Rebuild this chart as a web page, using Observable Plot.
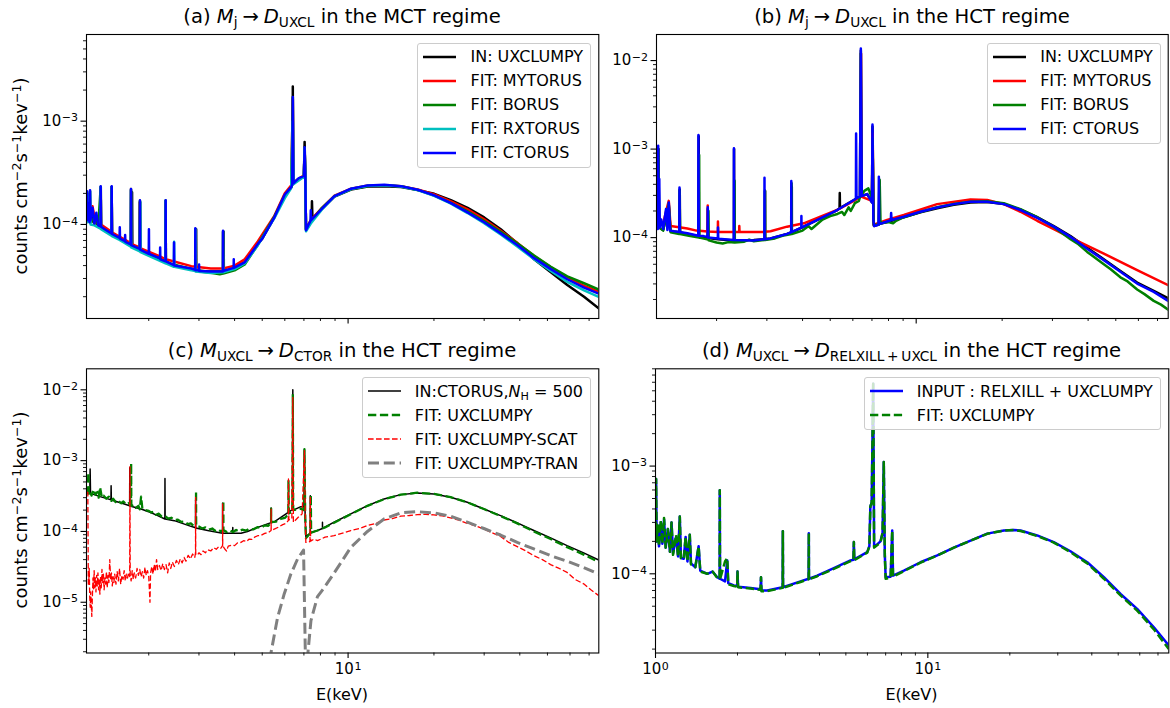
<!DOCTYPE html>
<html><head><meta charset="utf-8">
<script src="https://cdn.jsdelivr.net/npm/d3@7"></script>
<script src="https://cdn.jsdelivr.net/npm/@observablehq/plot@0.6"></script>
<style>
body{margin:0;background:#fff;}
#fig{position:relative;width:1170px;height:708px;font-family:"DejaVu Sans",sans-serif;color:#000;overflow:hidden;background:#fff;}
.pnl{position:absolute;}
.title{position:absolute;font-size:19.6px;line-height:1;white-space:nowrap;transform:translate(-50%,-50%);}
sub{font-size:70%;vertical-align:-0.28em;line-height:0;}
sup{font-size:70%;vertical-align:0.5em;line-height:0;}
.ylab{position:absolute;font-size:18px;line-height:1;white-space:nowrap;transform:translate(-50%,-50%) rotate(-90deg);}
.xlab{position:absolute;font-size:16px;line-height:1;white-space:nowrap;transform:translate(-50%,-50%);}
.legend{position:absolute;background:rgba(255,255,255,0.8);border:1px solid #cccccc;border-radius:3px;font-size:16px;padding:1px 7px 2px 5px;}
.legend .row{display:flex;align-items:center;height:24px;white-space:nowrap;}
.legend svg{width:33px;height:10px;margin-right:14px;flex:none;}
</style>
</head><body>
<div id="fig"></div>
<script>
// ---------------- DATA (energy keV, counts cm^-2 s^-1 keV^-1) ----------------
// Panel (a): M_j -> D_UXCL, MCT regime
const a_in_uxclumpy = [[1.21,1.2e-4],[1.215,2.0e-4],[1.222,1.15e-4],[1.232,1.5e-4],[1.24,1.08e-4],[1.26,1.35e-4],[1.28,1.05e-4],[1.33,1.0e-4],[1.355,9.7e-5],[1.358,2.3e-4],[1.362,9.6e-5],[1.44,8.4e-5],[1.48,8.1e-5],[1.482,2.3e-4],[1.487,8.0e-5],[1.58,7.3e-5],[1.65,7.0e-5],[1.745,6.3e-5],[1.748,2.05e-4],[1.752,6.3e-5],[1.86,5.8e-5],[1.863,1.65e-4],[1.867,5.7e-5],[2.0,5.2e-5],[2.15,4.8e-5],[2.29,4.4e-5],[2.292,1.7e-4],[2.296,4.4e-5],[2.46,4.0e-5],[2.82,3.7e-5],[2.93,3.6e-5],[2.933,9.0e-5],[2.937,3.6e-5],[3.23,3.5e-5],[3.66,3.5e-5],[3.663,8.5e-5],[3.667,3.5e-5],[4.0,3.8e-5],[4.34,4.3e-5],[4.83,6.5e-5],[5.0,7.3e-5],[5.52,1.18e-4],[6.0,1.95e-4],[6.32,2.3e-4],[6.39,2.45e-4],[6.4,2.17e-3],[6.41,2.5e-4],[6.7,2.75e-4],[7.0,2.95e-4],[7.04,6.3e-4],[7.08,2.95e-4],[7.12,9.0e-5],[7.3,1.02e-4],[7.45,1.12e-4],[7.47,1.68e-4],[7.5,1.14e-4],[8.1,1.42e-4],[8.96,1.86e-4],[10.24,2.18e-4],[11.72,2.33e-4],[13.4,2.35e-4],[15.33,2.3e-4],[17.54,2.15e-4],[20.05,1.98e-4],[22.94,1.72e-4],[26.24,1.45e-4],[30.0,1.17e-4],[34.3,9.0e-5],[39.3,6.5e-5],[44.9,4.6e-5],[51.4,3.45e-5],[58.7,2.6e-5],[67.2,2.0e-5],[76,1.53e-5]];
const a_fit_mytorus = [[1.21,1.25e-4],[1.22,2.0e-4],[1.24,1.1e-4],[1.27,1.5e-4],[1.3,1.05e-4],[1.355,1.0e-4],[1.357,2.2e-4],[1.36,1.0e-4],[1.48,8.5e-5],[1.483,2.3e-4],[1.486,8.4e-5],[1.73,6.6e-5],[1.733,2.2e-4],[1.736,6.5e-5],[1.86,6.0e-5],[1.863,1.65e-4],[1.866,5.9e-5],[2.19,4.9e-5],[2.29,4.6e-5],[2.293,1.65e-4],[2.296,4.6e-5],[2.82,3.95e-5],[2.913,3.9e-5],[2.916,8.8e-5],[2.92,3.9e-5],[3.3,3.75e-5],[3.643,3.75e-5],[3.646,8.5e-5],[3.65,3.75e-5],[4.0,4.0e-5],[4.34,4.6e-5],[4.83,6.9e-5],[5.52,1.22e-4],[6.0,2.0e-4],[6.32,2.4e-4],[6.4,1.65e-3],[6.43,2.55e-4],[7.0,3.0e-4],[7.04,5.4e-4],[7.08,3.0e-4],[7.12,9.0e-5],[7.4,1.1e-4],[8.1,1.45e-4],[8.96,1.9e-4],[10.24,2.22e-4],[11.72,2.38e-4],[13.4,2.4e-4],[15.33,2.34e-4],[17.54,2.18e-4],[20.05,1.95e-4],[22.94,1.67e-4],[26.24,1.4e-4],[30.0,1.12e-4],[34.3,8.7e-5],[39.3,6.6e-5],[44.9,4.95e-5],[51.4,3.85e-5],[58.7,3.05e-5],[67.2,2.55e-5],[76,2.22e-5]];
const a_fit_borus = [[1.21,1.15e-4],[1.215,1.9e-4],[1.225,1.1e-4],[1.245,2.1e-4],[1.25,1.05e-4],[1.3,1.2e-4],[1.33,9.6e-5],[1.357,2.3e-4],[1.36,9.3e-5],[1.48,8.1e-5],[1.483,2.3e-4],[1.486,8.0e-5],[1.73,6.3e-5],[1.733,2.15e-4],[1.736,6.2e-5],[1.86,5.7e-5],[1.863,1.7e-4],[1.866,5.6e-5],[2.29,4.35e-5],[2.293,1.7e-4],[2.296,4.3e-5],[2.82,3.7e-5],[2.913,3.6e-5],[2.916,9.0e-5],[2.92,3.55e-5],[3.3,3.4e-5],[3.55,3.3e-5],[3.643,3.35e-5],[3.646,8.5e-5],[3.65,3.35e-5],[4.0,3.6e-5],[4.34,4.1e-5],[4.83,6.4e-5],[5.52,1.2e-4],[6.0,1.9e-4],[6.32,2.3e-4],[6.4,1.7e-3],[6.43,2.5e-4],[7.0,2.95e-4],[7.04,5.5e-4],[7.08,2.95e-4],[7.12,8.9e-5],[7.4,1.05e-4],[8.1,1.45e-4],[8.96,1.88e-4],[10.24,2.2e-4],[11.72,2.36e-4],[13.4,2.4e-4],[15.33,2.34e-4],[17.54,2.16e-4],[20.05,1.9e-4],[22.94,1.62e-4],[26.24,1.34e-4],[30.0,1.08e-4],[34.3,8.5e-5],[39.3,6.55e-5],[44.9,5.0e-5],[51.4,3.9e-5],[58.7,3.15e-5],[67.2,2.7e-5],[76,2.33e-5]];
const a_fit_rxtorus = [[1.21,1.1e-4],[1.215,2.0e-4],[1.22,1.05e-4],[1.245,2.1e-4],[1.25,1.0e-4],[1.29,9.8e-5],[1.355,9.1e-5],[1.357,2.3e-4],[1.36,9.0e-5],[1.48,7.8e-5],[1.483,2.3e-4],[1.486,7.7e-5],[1.58,7.1e-5],[1.73,6.1e-5],[1.733,2.2e-4],[1.736,6.0e-5],[1.86,5.5e-5],[1.868,1.65e-4],[1.872,5.4e-5],[2.29,4.2e-5],[2.293,1.7e-4],[2.296,4.2e-5],[2.45,3.9e-5],[2.455,6.8e-5],[2.46,3.9e-5],[2.82,3.6e-5],[2.913,3.55e-5],[2.916,9.0e-5],[2.92,3.5e-5],[3.3,3.4e-5],[3.643,3.45e-5],[3.646,8.6e-5],[3.65,3.45e-5],[4.0,3.7e-5],[4.34,4.2e-5],[4.83,6.3e-5],[5.52,1.16e-4],[6.0,1.8e-4],[6.32,2.25e-4],[6.4,1.0e-3],[6.43,2.45e-4],[7.0,2.9e-4],[7.04,5.5e-4],[7.08,2.9e-4],[7.12,8.6e-5],[7.4,1.02e-4],[8.1,1.4e-4],[8.96,1.87e-4],[10.24,2.2e-4],[11.72,2.37e-4],[13.4,2.4e-4],[15.33,2.33e-4],[17.54,2.15e-4],[20.05,1.89e-4],[22.94,1.59e-4],[26.24,1.29e-4],[30.0,1.03e-4],[34.3,8.0e-5],[39.3,6.1e-5],[44.9,4.6e-5],[51.4,3.55e-5],[58.7,2.78e-5],[67.2,2.3e-5],[76,1.98e-5]];
const a_fit_ctorus = [[1.21,1.2e-4],[1.215,2.1e-4],[1.22,1.1e-4],[1.23,1.6e-4],[1.24,1.05e-4],[1.245,2.15e-4],[1.25,1.1e-4],[1.27,1.45e-4],[1.29,1.02e-4],[1.31,1.3e-4],[1.33,9.8e-5],[1.355,9.6e-5],[1.357,2.35e-4],[1.36,9.5e-5],[1.42,8.8e-5],[1.48,8.2e-5],[1.483,2.35e-4],[1.486,8.1e-5],[1.58,7.4e-5],[1.583,9.4e-5],[1.586,7.3e-5],[1.65,6.9e-5],[1.653,7.9e-5],[1.656,6.8e-5],[1.73,6.4e-5],[1.733,2.2e-4],[1.736,6.3e-5],[1.86,5.8e-5],[1.863,1.72e-4],[1.866,5.7e-5],[2.0,5.2e-5],[2.003,9.0e-5],[2.006,5.2e-5],[2.19,4.7e-5],[2.193,6.0e-5],[2.196,4.6e-5],[2.29,4.4e-5],[2.293,1.72e-4],[2.296,4.4e-5],[2.45,4.05e-5],[2.453,6.7e-5],[2.456,4.0e-5],[2.82,3.75e-5],[2.91,3.65e-5],[2.913,9.2e-5],[2.916,3.6e-5],[3.0,3.6e-5],[3.003,4.1e-5],[3.006,3.55e-5],[3.3,3.5e-5],[3.64,3.5e-5],[3.643,8.7e-5],[3.646,3.55e-5],[3.97,3.8e-5],[3.973,4.6e-5],[3.976,3.8e-5],[4.34,4.3e-5],[4.83,6.5e-5],[5.0,7.3e-5],[5.52,1.18e-4],[6.0,1.95e-4],[6.32,2.3e-4],[6.37,2.45e-4],[6.4,1.71e-3],[6.43,2.5e-4],[6.7,2.8e-4],[7.0,2.95e-4],[7.04,5.6e-4],[7.08,2.95e-4],[7.12,8.8e-5],[7.3,1.02e-4],[7.38,1.08e-4],[7.4,1.37e-4],[7.42,1.1e-4],[8.1,1.42e-4],[8.96,1.88e-4],[10.24,2.22e-4],[11.72,2.39e-4],[13.4,2.42e-4],[15.33,2.35e-4],[17.54,2.17e-4],[20.05,1.91e-4],[22.94,1.61e-4],[26.24,1.31e-4],[30.0,1.05e-4],[34.3,8.2e-5],[39.3,6.3e-5],[44.9,4.72e-5],[51.4,3.7e-5],[58.7,2.95e-5],[67.2,2.45e-5],[76,2.13e-5]];

// Panel (b): M_j -> D_UXCL, HCT regime
const b_in_uxclumpy = [[1.23,1.3e-4],[1.249,1.3e-4],[1.251,1.0e-3],[1.255,1.3e-4],[1.3,1.22e-4],[1.36,2.3e-4],[1.38,1.18e-4],[1.483,1.15e-4],[1.486,3.5e-4],[1.49,1.14e-4],[1.58,1.1e-4],[1.728,1.04e-4],[1.731,1.4e-3],[1.734,1.04e-4],[1.86,1.0e-4],[1.863,2.1e-4],[1.866,9.9e-5],[2.02,9.6e-5],[2.3,9.3e-5],[2.303,1.0e-3],[2.306,9.3e-5],[2.7,9.4e-5],[2.955,9.6e-5],[2.958,3.36e-4],[2.961,9.6e-5],[3.09,9.8e-5],[3.53,1.1e-4],[3.665,1.15e-4],[3.668,3.75e-4],[3.671,1.15e-4],[4.04,1.33e-4],[4.62,1.65e-4],[5.29,2.05e-4],[5.39,2.15e-4],[5.40,3.2e-4],[5.41,2.15e-4],[6.05,2.66e-4],[6.35,2.9e-4],[6.4,1.3e-2],[6.45,2.95e-4],[6.74,3.1e-4],[7.0,2.5e-4],[7.03,1.8e-3],[7.08,1.6e-4],[7.12,1.35e-4],[7.4,1.42e-4],[7.43,4.3e-4],[7.46,1.43e-4],[7.91,1.5e-4],[9.05,1.7e-4],[10.35,1.93e-4],[11.84,2.15e-4],[13.54,2.35e-4],[15.49,2.5e-4],[17.73,2.53e-4],[20.27,2.4e-4],[23.19,2.07e-4],[26.53,1.7e-4],[30.33,1.35e-4],[34.7,1.04e-4],[39.7,7.7e-5],[45.4,5.7e-5],[51.9,4.2e-5],[59.4,3.1e-5],[67.9,2.5e-5],[76.3,2.06e-5]];
const b_fit_mytorus = [[1.23,1.35e-4],[1.25,2.0e-4],[1.27,1.4e-4],[1.3,1.45e-4],[1.36,2.6e-4],[1.38,1.35e-4],[1.5,1.3e-4],[1.58,1.27e-4],[1.7,1.2e-4],[1.86,1.17e-4],[1.862,2.3e-4],[1.866,1.17e-4],[2.02,1.16e-4],[2.022,1.52e-4],[2.026,1.16e-4],[2.4,1.16e-4],[2.402,1.35e-4],[2.406,1.16e-4],[2.9,1.16e-4],[3.09,1.18e-4],[3.53,1.33e-4],[4.04,1.45e-4],[4.62,1.72e-4],[5.29,2.05e-4],[6.05,2.6e-4],[6.4,2.9e-4],[6.41,1.2e-2],[6.42,2.9e-4],[7.0,2.6e-4],[7.04,1.5e-3],[7.1,1.4e-4],[7.91,1.58e-4],[9.05,1.8e-4],[11.84,2.39e-4],[15.49,2.7e-4],[17.73,2.66e-4],[20.27,2.39e-4],[23.19,1.96e-4],[26.53,1.55e-4],[30.33,1.25e-4],[34.7,1.0e-4],[45.4,6.6e-5],[59.4,4.3e-5],[76.3,2.9e-5]];
const b_fit_borus = [[1.23,1.3e-4],[1.25,1.0e-3],[1.26,1.3e-4],[1.3,1.2e-4],[1.36,2.4e-4],[1.38,1.15e-4],[1.48,1.1e-4],[1.484,3.4e-4],[1.49,1.1e-4],[1.6,1.05e-4],[1.735,1.0e-4],[1.738,8.6e-4],[1.742,1.0e-4],[1.87,9.5e-5],[1.873,2.0e-4],[1.877,9.3e-5],[2.0,8.8e-5],[2.1,8.6e-5],[2.2,8.9e-5],[2.31,8.8e-5],[2.313,4.4e-4],[2.317,8.8e-5],[2.5,9.0e-5],[2.6,9.5e-5],[2.7,9.1e-5],[2.95,9.4e-5],[2.953,3.4e-4],[2.957,9.4e-5],[3.2,9.8e-5],[3.4,1.05e-4],[3.66,1.1e-4],[3.663,4.1e-4],[3.667,1.1e-4],[4.0,1.2e-4],[4.2,1.35e-4],[4.3,1.25e-4],[4.7,1.6e-4],[5.0,1.75e-4],[5.3,1.85e-4],[5.5,1.95e-4],[5.6,1.8e-4],[5.8,2.2e-4],[5.9,2.0e-4],[6.1,2.45e-4],[6.3,2.6e-4],[6.38,3.0e-4],[6.4,1.2e-2],[6.42,3.0e-4],[6.6,3.4e-4],[6.8,3.6e-4],[7.0,2.8e-4],[7.04,1.3e-3],[7.1,1.4e-4],[7.4,1.4e-4],[7.45,4.5e-4],[7.5,1.45e-4],[8.0,1.5e-4],[8.3,1.45e-4],[8.5,1.55e-4],[9.05,1.7e-4],[10.35,1.95e-4],[11.84,2.2e-4],[13.54,2.4e-4],[15.49,2.55e-4],[17.73,2.58e-4],[20.27,2.45e-4],[23.19,2.1e-4],[26.53,1.7e-4],[30.33,1.32e-4],[34.7,9.6e-5],[37,8.4e-5],[39.7,6.9e-5],[45.4,5.0e-5],[48,4.4e-5],[51.9,3.56e-5],[55,3.2e-5],[59.4,2.59e-5],[63,2.3e-5],[67.9,1.93e-5],[72,1.75e-5],[76.3,1.53e-5]];
const b_fit_ctorus = [[1.23,1.3e-4],[1.24,1.9e-4],[1.245,1.25e-4],[1.249,1.09e-3],[1.253,1.3e-4],[1.26,4.6e-4],[1.265,1.3e-4],[1.28,1.6e-4],[1.3,1.25e-4],[1.33,2.1e-4],[1.345,1.22e-4],[1.36,2.5e-4],[1.375,1.2e-4],[1.42,1.18e-4],[1.48,1.16e-4],[1.483,3.69e-4],[1.487,1.16e-4],[1.58,1.12e-4],[1.725,1.05e-4],[1.728,1.44e-3],[1.732,1.05e-4],[1.80,1.04e-4],[1.86,1.02e-4],[1.863,2.2e-4],[1.867,1.0e-4],[2.02,9.8e-5],[2.023,1.3e-4],[2.027,9.7e-5],[2.298,9.4e-5],[2.30,1.02e-3],[2.304,9.4e-5],[2.7,9.3e-5],[2.94,9.6e-5],[2.943,4.74e-4],[2.947,9.6e-5],[3.09,9.8e-5],[3.53,1.1e-4],[3.65,1.15e-4],[3.653,4.35e-4],[3.657,1.15e-4],[3.96,1.3e-4],[3.963,1.75e-4],[3.967,1.3e-4],[4.62,1.65e-4],[5.29,2.05e-4],[6.05,2.66e-4],[6.15,2.75e-4],[6.16,1.5e-3],[6.18,2.8e-4],[6.35,2.9e-4],[6.4,1.37e-2],[6.45,2.95e-4],[6.74,3.1e-4],[7.0,2.5e-4],[7.03,1.9e-3],[7.08,1.6e-4],[7.12,1.35e-4],[7.3,1.38e-4],[7.38,1.4e-4],[7.4,4.87e-4],[7.42,1.42e-4],[7.91,1.52e-4],[8.15,1.57e-4],[8.17,1.9e-4],[8.2,1.58e-4],[9.05,1.72e-4],[10.35,1.96e-4],[11.84,2.19e-4],[13.54,2.39e-4],[15.49,2.54e-4],[17.73,2.54e-4],[20.27,2.39e-4],[23.19,2.05e-4],[26.53,1.67e-4],[30.33,1.33e-4],[34.7,1.02e-4],[39.7,7.5e-5],[45.4,5.57e-5],[51.9,4.11e-5],[59.4,3.03e-5],[67.9,2.44e-5],[76.3,1.93e-5]];

// Panel (c): M_UXCL -> D_CTOR, HCT regime
const c_in_ctorus = [[1.21,3.6e-4],[1.223,3.57e-4],[1.243,3.5e-4],[1.246,7.6e-4],[1.25,3.45e-4],[1.35,3.1e-4],[1.438,2.88e-4],[1.474,2.8e-4],[1.476,4.4e-4],[1.479,2.78e-4],[1.643,2.44e-4],[1.714,2.3e-4],[1.716,7.9e-4],[1.719,2.28e-4],[1.88,2.07e-4],[1.998,1.9e-4],[2.0,1.95e-4],[2.003,1.9e-4],[2.15,1.67e-4],[2.278,1.5e-4],[2.28,5.6e-4],[2.283,1.5e-4],[2.459,1.42e-4],[2.813,1.18e-4],[2.918,1.13e-4],[2.92,2.79e-4],[2.923,1.12e-4],[3.219,1.03e-4],[3.628,9.4e-5],[3.63,2.5e-4],[3.633,9.4e-5],[3.94,9.4e-5],[3.942,1.14e-4],[3.945,9.4e-5],[4.21,9.4e-5],[4.44,1.0e-4],[4.817,1.14e-4],[5.37,1.33e-4],[5.372,2.15e-4],[5.375,1.33e-4],[5.507,1.37e-4],[6.3,1.97e-4],[6.38,2.0e-4],[6.4,1.0e-2],[6.42,2.0e-4],[6.83,2.24e-4],[7.0,2.2e-4],[7.03,1.42e-3],[7.06,2.1e-4],[7.11,8.5e-5],[7.3,9.2e-5],[7.37,9.5e-5],[7.372,3.2e-4],[7.375,9.6e-5],[7.81,1.03e-4],[8.13,1.1e-4],[8.132,1.35e-4],[8.135,1.1e-4],[8.93,1.35e-4],[10.22,1.77e-4],[11.69,2.31e-4],[13.37,2.88e-4],[15.29,3.31e-4],[17.5,3.5e-4],[20.0,3.38e-4],[22.88,3.03e-4],[26.18,2.58e-4],[29.94,2.07e-4],[34.25,1.67e-4],[39.19,1.32e-4],[44.8,1.03e-4],[51.3,8.1e-5],[58.6,6.3e-5],[67.0,4.97e-5],[75.7,3.95e-5]];
const c_fit_uxclumpy = [[1.21,3.4e-4],[1.223,3.5e-4],[1.228,6.8e-4],[1.233,3.4e-4],[1.245,3.7e-4],[1.26,3.2e-4],[1.28,3.9e-4],[1.30,3.3e-4],[1.32,3.6e-4],[1.335,3.0e-4],[1.35,4.2e-4],[1.37,3.0e-4],[1.39,3.2e-4],[1.42,2.9e-4],[1.45,3.1e-4],[1.48,2.7e-4],[1.5,2.9e-4],[1.53,2.6e-4],[1.56,2.75e-4],[1.6,2.5e-4],[1.63,2.65e-4],[1.67,2.4e-4],[1.7,2.5e-4],[1.733,2.3e-4],[1.735,9.2e-4],[1.738,2.3e-4],[1.77,2.35e-4],[1.8,2.15e-4],[1.84,2.3e-4],[1.86,2.05e-4],[1.88,3.1e-4],[1.9,2.1e-4],[1.95,2.0e-4],[2.0,1.95e-4],[2.04,1.85e-4],[2.08,1.9e-4],[2.12,1.72e-4],[2.17,1.78e-4],[2.22,1.62e-4],[2.28,1.66e-4],[2.34,1.52e-4],[2.4,1.56e-4],[2.46,1.45e-4],[2.53,1.47e-4],[2.6,1.36e-4],[2.67,1.38e-4],[2.74,1.27e-4],[2.81,1.3e-4],[2.87,1.2e-4],[2.928,1.22e-4],[2.93,3.77e-4],[2.933,1.2e-4],[3.0,1.17e-4],[3.08,1.1e-4],[3.16,1.14e-4],[3.25,1.06e-4],[3.34,1.1e-4],[3.42,1.02e-4],[3.5,1.07e-4],[3.58,1.0e-4],[3.65,1.05e-4],[3.652,2.7e-4],[3.655,1.05e-4],[3.75,9.8e-5],[3.85,1.04e-4],[3.95,9.8e-5],[4.05,1.05e-4],[4.15,1.0e-4],[4.25,1.06e-4],[4.4,1.03e-4],[4.5,1.1e-4],[4.65,1.07e-4],[4.82,1.15e-4],[4.95,1.12e-4],[5.1,1.22e-4],[5.25,1.2e-4],[5.37,1.35e-4],[5.372,2.1e-4],[5.375,1.35e-4],[5.6,1.38e-4],[5.8,1.5e-4],[6.0,1.55e-4],[6.17,1.75e-4],[6.18,5.3e-4],[6.2,1.8e-4],[6.38,1.9e-4],[6.4,8.7e-3],[6.42,2.0e-4],[6.8,2.1e-4],[7.0,2.0e-4],[7.03,1.45e-3],[7.07,2.0e-4],[7.11,8.0e-5],[7.38,9.5e-5],[7.4,3.3e-4],[7.42,9.6e-5],[7.81,1.03e-4],[8.3,1.14e-4],[8.93,1.33e-4],[10.22,1.75e-4],[11.69,2.3e-4],[13.37,2.85e-4],[15.29,3.3e-4],[17.5,3.52e-4],[20.0,3.4e-4],[22.88,3.05e-4],[26.18,2.58e-4],[29.94,2.07e-4],[34.25,1.65e-4],[39.19,1.3e-4],[44.8,1.0e-4],[51.3,7.8e-5],[58.6,6.0e-5],[67.0,4.7e-5],[75.7,3.7e-5]];
const c_fit_scat = [[1.21,3.6e-4],[1.223,3.57e-4],[1.228,1.8e-5],[1.233,2.0e-5],[1.237,3.0e-5],[1.242,1.2e-5],[1.247,8.5e-6],[1.252,1.4e-5],[1.258,9e-6],[1.263,6.3e-6],[1.268,1.1e-5],[1.275,2.2e-5],[1.281,1.5e-5],[1.287,2.8e-5],[1.293,1.6e-5],[1.3,2.2e-5],[1.306,1.4e-5],[1.313,2.4e-5],[1.32,1.7e-5],[1.327,2.6e-5],[1.334,1.5e-5],[1.341,2.1e-5],[1.348,1.3e-5],[1.356,2.3e-5],[1.363,1.6e-5],[1.371,2.9e-5],[1.379,1.9e-5],[1.387,2.5e-5],[1.395,1.5e-5],[1.404,2.2e-5],[1.412,1.8e-5],[1.421,2.7e-5],[1.43,1.6e-5],[1.44,2.4e-5],[1.45,1.9e-5],[1.46,4.0e-5],[1.47,2.1e-5],[1.48,2.6e-5],[1.49,1.7e-5],[1.5,2.3e-5],[1.51,1.9e-5],[1.52,2.5e-5],[1.535,1.8e-5],[1.55,2.7e-5],[1.565,2.0e-5],[1.58,3.0e-5],[1.595,1.8e-5],[1.61,2.4e-5],[1.625,2.1e-5],[1.64,2.8e-5],[1.655,2.0e-5],[1.67,2.5e-5],[1.685,2.2e-5],[1.7,2.6e-5],[1.715,2.3e-5],[1.718,8.2e-4],[1.722,2.4e-5],[1.735,2.0e-5],[1.75,2.8e-5],[1.765,2.1e-5],[1.78,2.6e-5],[1.8,2.2e-5],[1.82,3.0e-5],[1.84,2.4e-5],[1.86,2.9e-5],[1.88,2.3e-5],[1.9,2.7e-5],[1.92,2.2e-5],[1.94,3.1e-5],[1.96,2.4e-5],[1.98,2.8e-5],[2.0,2.3e-5],[2.02,1.0e-5],[2.03,2.6e-5],[2.05,3.2e-5],[2.07,2.5e-5],[2.09,3.4e-5],[2.11,2.7e-5],[2.13,4.0e-5],[2.15,2.9e-5],[2.18,3.3e-5],[2.21,2.8e-5],[2.24,3.5e-5],[2.27,2.9e-5],[2.3,3.4e-5],[2.33,2.6e-5],[2.36,3.6e-5],[2.39,3.0e-5],[2.42,3.7e-5],[2.46,3.2e-5],[2.5,3.9e-5],[2.54,3.4e-5],[2.58,4.1e-5],[2.62,3.6e-5],[2.66,4.3e-5],[2.7,3.8e-5],[2.75,4.6e-5],[2.8,4.1e-5],[2.85,4.8e-5],[2.9,4.3e-5],[2.918,5.0e-5],[2.92,3.03e-4],[2.923,4.8e-5],[2.96,4.6e-5],[3.0,5.0e-5],[3.05,4.7e-5],[3.1,5.3e-5],[3.16,5.0e-5],[3.22,5.5e-5],[3.3,5.3e-5],[3.38,5.9e-5],[3.45,5.6e-5],[3.52,6.1e-5],[3.58,5.8e-5],[3.63,6.3e-5],[3.632,2.44e-4],[3.635,6.3e-5],[3.7,5.6e-5],[3.75,5.3e-5],[3.8,6.2e-5],[3.9,6.4e-5],[4.0,6.3e-5],[4.1,6.9e-5],[4.21,7.0e-5],[4.3,7.4e-5],[4.4,7.2e-5],[4.5,7.8e-5],[4.6,7.7e-5],[4.7,8.3e-5],[4.82,8.7e-5],[4.95,8.8e-5],[5.1,9.4e-5],[5.25,9.6e-5],[5.37,1.03e-4],[5.372,2.07e-4],[5.375,1.03e-4],[5.51,1.08e-4],[5.7,1.15e-4],[5.9,1.25e-4],[6.05,1.3e-4],[6.17,1.42e-4],[6.18,5.5e-4],[6.2,1.45e-4],[6.35,1.5e-4],[6.4,7.8e-3],[6.43,1.35e-4],[6.7,1.6e-4],[6.9,1.77e-4],[7.03,1.38e-3],[7.08,1.5e-4],[7.11,7.0e-5],[7.35,7.2e-5],[7.37,3.1e-4],[7.39,7.3e-5],[7.6,7.8e-5],[7.81,7.4e-5],[8.3,8.3e-5],[8.93,8.7e-5],[9.5,9.4e-5],[10.22,1.03e-4],[11.0,1.1e-4],[11.69,1.21e-4],[12.5,1.3e-4],[13.37,1.45e-4],[14.3,1.52e-4],[15.29,1.64e-4],[16.4,1.68e-4],[17.5,1.73e-4],[18.7,1.74e-4],[20.0,1.71e-4],[21.4,1.66e-4],[22.88,1.55e-4],[24.5,1.44e-4],[26.18,1.3e-4],[28,1.2e-4],[29.94,1.08e-4],[32,9.6e-5],[34.25,8.5e-5],[36.6,7.0e-5],[39.19,6.1e-5],[42,5.3e-5],[44.8,4.55e-5],[48,4.0e-5],[51.3,3.4e-5],[55,3.0e-5],[58.6,2.64e-5],[62.5,2.1e-5],[67.0,1.82e-5],[71,1.5e-5],[75.7,1.24e-5]];
const c_fit_tran = [[5.25,1.5e-6],[5.37,1.96e-6],[5.66,6.1e-6],[5.97,1.31e-5],[6.3,2.5e-5],[6.65,4.08e-5],[6.98,5.47e-5],[7.1,1.0e-6],[7.12,1.0e-6],[7.41,5.5e-6],[7.81,1.2e-5],[8.24,1.6e-5],[8.82,2.4e-5],[9.43,3.6e-5],[10.22,5.95e-5],[11.69,1.0e-4],[13.37,1.5e-4],[15.29,1.83e-4],[17.5,1.9e-4],[20.0,1.83e-4],[22.88,1.64e-4],[26.18,1.35e-4],[29.94,1.1e-4],[34.25,8.9e-5],[39.19,7.0e-5],[44.8,5.66e-5],[51.3,4.55e-5],[58.6,3.8e-5],[67.0,3.1e-5],[75.7,2.5e-5]];

// Panel (d): M_UXCL -> D_RELXILL+UXCL, HCT regime
const d_input = [[1.0,2.0e-4],[1.005,7.6e-4],[1.01,2.0e-4],[1.02,2.8e-4],[1.03,1.8e-4],[1.045,3.0e-4],[1.06,1.9e-4],[1.075,3.2e-4],[1.09,1.75e-4],[1.11,2.6e-4],[1.13,1.6e-4],[1.145,3.0e-4],[1.16,1.55e-4],[1.19,2.2e-4],[1.21,1.45e-4],[1.228,3.4e-4],[1.24,1.4e-4],[1.27,1.38e-4],[1.29,2.2e-4],[1.31,1.3e-4],[1.336,2.3e-4],[1.35,1.25e-4],[1.4,1.15e-4],[1.44,1.8e-4],[1.46,1.07e-4],[1.55,1.0e-4],[1.62,1.05e-4],[1.685,9.3e-5],[1.72,9.0e-5],[1.722,5.95e-4],[1.726,9.0e-5],[1.8,8.5e-5],[1.834,1.33e-4],[1.85,8.2e-5],[1.939,7.8e-5],[1.995,7.7e-5],[2.0,1.05e-4],[2.01,7.6e-5],[2.234,7.4e-5],[2.43,7.2e-5],[2.44,9.3e-5],[2.45,7.0e-5],[2.572,7.0e-5],[2.93,7.5e-5],[2.935,2.49e-4],[2.94,7.5e-5],[3.408,8.5e-5],[3.65,9.0e-5],[3.656,2.38e-4],[3.66,9.0e-5],[3.925,9.6e-5],[4.517,1.13e-4],[5.2,1.33e-4],[5.33,1.35e-4],[5.35,1.97e-4],[5.37,1.36e-4],[5.99,1.59e-4],[6.1,1.8e-4],[6.15,4.2e-4],[6.22,4.6e-4],[6.3,5.8e-3],[6.35,1.77e-4],[6.7,2.0e-4],[6.82,2.4e-4],[6.89,1.09e-3],[6.95,1.5e-4],[7.0,9.3e-5],[7.3,9.4e-5],[7.4,2.52e-4],[7.45,9.6e-5],[8.17,1.07e-4],[9.4,1.28e-4],[10.83,1.48e-4],[12.46,1.75e-4],[14.35,2.03e-4],[16.52,2.36e-4],[19.02,2.52e-4],[20.7,2.55e-4],[21.9,2.52e-4],[25.2,2.27e-4],[29.0,1.97e-4],[33.4,1.62e-4],[38.5,1.28e-4],[44.3,9.3e-5],[51.0,6.5e-5],[58.7,4.73e-5],[67.6,3.19e-5],[76.7,2.16e-5]];
const d_fit_uxclumpy = [[1.0,2.0e-4],[1.005,7.6e-4],[1.01,2.0e-4],[1.02,2.9e-4],[1.03,1.8e-4],[1.045,3.1e-4],[1.06,1.9e-4],[1.075,3.3e-4],[1.09,1.75e-4],[1.11,2.6e-4],[1.13,1.6e-4],[1.145,3.0e-4],[1.16,1.5e-4],[1.19,2.3e-4],[1.21,1.45e-4],[1.228,3.4e-4],[1.24,1.4e-4],[1.27,1.36e-4],[1.29,2.2e-4],[1.31,1.3e-4],[1.336,2.3e-4],[1.35,1.22e-4],[1.4,1.15e-4],[1.44,1.8e-4],[1.46,1.05e-4],[1.55,1.0e-4],[1.62,1.05e-4],[1.685,9.2e-5],[1.72,8.9e-5],[1.722,5.95e-4],[1.726,8.9e-5],[1.8,1.3e-4],[1.834,1.4e-4],[1.85,8.0e-5],[1.939,7.7e-5],[1.995,7.6e-5],[2.0,1.05e-4],[2.01,7.5e-5],[2.234,7.3e-5],[2.43,7.1e-5],[2.44,9.3e-5],[2.45,6.9e-5],[2.572,6.9e-5],[2.93,7.4e-5],[2.935,2.49e-4],[2.94,7.4e-5],[3.408,8.4e-5],[3.65,8.9e-5],[3.656,2.38e-4],[3.66,8.9e-5],[3.925,9.5e-5],[4.517,1.11e-4],[5.2,1.31e-4],[5.33,1.33e-4],[5.35,1.97e-4],[5.37,1.34e-4],[5.99,1.57e-4],[6.1,1.8e-4],[6.15,4.2e-4],[6.22,4.6e-4],[6.3,5.8e-3],[6.35,1.75e-4],[6.7,1.95e-4],[6.82,2.4e-4],[6.89,1.09e-3],[6.95,1.5e-4],[7.0,9.0e-5],[7.3,9.2e-5],[7.4,2.52e-4],[7.45,9.4e-5],[8.17,1.06e-4],[9.4,1.27e-4],[10.83,1.48e-4],[12.46,1.75e-4],[14.35,2.03e-4],[16.52,2.35e-4],[19.02,2.52e-4],[20.7,2.55e-4],[21.9,2.5e-4],[25.2,2.25e-4],[29.0,1.95e-4],[33.4,1.59e-4],[38.5,1.25e-4],[44.3,9.0e-5],[51.0,6.3e-5],[58.7,4.55e-5],[67.6,3.05e-5],[76.7,2.0e-5]];

// ---------------- AXIS CONFIG ----------------
const xDomLeft = [1.21, 75.7], xDomB = [1.232, 76.3], xDomD = [1.0, 76.7];
const yDomA = [1.23e-5, 6.9e-3], yDomB = [1.22e-5, 1.97e-2], yDomC = [1.92e-6, 1.98e-2], yDomD = [1.84e-5, 8.0e-3];
const yMajorA = [1e-4, 1e-3], yMajorB = [1e-4, 1e-3, 1e-2], yMajorC = [1e-5, 1e-4, 1e-3, 1e-2], yMajorD = [1e-4, 1e-3];
const xMajorLeft = [10], xMajorD = [1, 10];

const fmtPow = v => "10^" + String(Math.round(Math.log10(v))).replace("-", "\u2212");
const blank = () => "";
function minorTicks([lo, hi]) {
  const out = [];
  for (let e = Math.floor(Math.log10(lo)); e <= Math.ceil(Math.log10(hi)); e++)
    for (let m = 2; m <= 9; m++) { const v = +(m * Math.pow(10, e)).toPrecision(3); if (v >= lo && v <= hi) out.push(v); }
  return out;
}
function fixSup(svg) {
  svg.querySelectorAll("text").forEach(t => {
    const s = t.textContent;
    if (!s.includes("^")) return;
    const [base, exp] = s.split("^");
    t.textContent = base;
    const ts = document.createElementNS("http://www.w3.org/2000/svg", "tspan");
    ts.setAttribute("dy", "-0.42em");
    ts.setAttribute("font-size", "11px");
    ts.setAttribute("dx", "0.5");
    ts.textContent = exp;
    t.appendChild(ts);
  });
}

const K = "#000000", R = "#ff0000", G = "#008000", C = "#00bfbf", B = "#0000ff", GR = "#808080";
const W = 2.5;

const panels = [
  {left: 0, top: 0, w: 600, h: 330, ml: 86, mr: 1.7, mt: 34, mb: 12, xdom: xDomLeft, ydom: yDomA, yMajor: yMajorA, xMajor: xMajorLeft, xLabels: false,
   series: [[a_in_uxclumpy, K, W], [a_fit_mytorus, R, W], [a_fit_borus, G, W], [a_fit_rxtorus, C, W], [a_fit_ctorus, B, W]]},
  {left: 600, top: 0, w: 570, h: 330, ml: 56, mr: 2.3, mt: 34, mb: 12, xdom: xDomB, ydom: yDomB, yMajor: yMajorB, xMajor: xMajorLeft, xLabels: false,
   series: [[b_in_uxclumpy, K, W], [b_fit_mytorus, R, W], [b_fit_borus, G, W], [b_fit_ctorus, B, W]]},
  {left: 0, top: 340, w: 600, h: 368, ml: 86, mr: 1.7, mt: 28.3, mb: 55.5, xdom: xDomLeft, ydom: yDomC, yMajor: yMajorC, xMajor: xMajorLeft, xLabels: true,
   series: [[c_in_ctorus, K, 1.5], [c_fit_uxclumpy, G, 2.3, "8.3,3.6"], [c_fit_scat, R, 1.3, "5.6,2.4"], [c_fit_tran, GR, 3, "11,4.8"]]},
  {left: 600, top: 340, w: 570, h: 368, ml: 55, mr: 1.7, mt: 28.3, mb: 55.5, xdom: xDomD, ydom: yDomD, yMajor: yMajorD, xMajor: xMajorD, xLabels: true,
   series: [[d_input, B, 2.5], [d_fit_uxclumpy, G, 2.5, "8.3,3.6"]]}
];

const fig = document.getElementById("fig");

for (const p of panels) {
  const marks = p.series.map(([data, stroke, sw, dash]) => Plot.line(data, {
    x: d => d[0], y: d => d[1], stroke, strokeWidth: sw, strokeDasharray: dash, clip: true,
    strokeLinejoin: "round", strokeLinecap: dash ? "butt" : "round"
  }));
  marks.push(Plot.frame({stroke: "#000", strokeWidth: 1.1}));
  marks.push(Plot.axisY({ticks: p.yMajor, tickSize: 5.5, tickPadding: 3, tickFormat: fmtPow, fontSize: 15, strokeWidth: 1.1, label: null}));
  marks.push(Plot.axisY({ticks: minorTicks(p.ydom), tickSize: 3, tickFormat: blank, strokeWidth: 0.9, label: null}));
  marks.push(Plot.axisX({ticks: p.xMajor, tickSize: 5.5, tickPadding: 5, tickFormat: p.xLabels ? fmtPow : blank, fontSize: 15, strokeWidth: 1.1, label: null}));
  marks.push(Plot.axisX({ticks: minorTicks(p.xdom), tickSize: 3, tickFormat: blank, strokeWidth: 0.9, label: null}));
  const svg = Plot.plot({
    width: p.w, height: p.h, marginLeft: p.ml, marginRight: p.mr, marginTop: p.mt, marginBottom: p.mb,
    x: {type: "log", domain: p.xdom}, y: {type: "log", domain: p.ydom},
    style: {fontFamily: '"DejaVu Sans", sans-serif', fontSize: "15px", background: "transparent", overflow: "visible", color: "#000"},
    marks
  });
  fixSup(svg);
  const wrap = document.createElement("div");
  wrap.className = "pnl";
  wrap.style.left = p.left + "px"; wrap.style.top = p.top + "px";
  wrap.appendChild(svg);
  fig.appendChild(wrap);
}

// Titles, axis labels
function addText(cls, html, x, y) {
  const d = document.createElement("div");
  d.className = cls; d.innerHTML = html;
  d.style.left = x + "px"; d.style.top = y + "px";
  fig.appendChild(d);
}
const ARR = "\u2005\u2192\u2005";
addText("title", `(a) <i>M</i><sub>j</sub>${ARR}<i>D</i><sub>UXCL</sub> in the MCT regime`, 342, 16.5);
addText("title", `(b) <i>M</i><sub>j</sub>${ARR}<i>D</i><sub>UXCL</sub> in the HCT regime`, 912, 16.5);
addText("title", `(c) <i>M</i><sub>UXCL</sub>${ARR}<i>D</i><sub>CTOR</sub> in the HCT regime`, 342, 350.5);
addText("title", `(d) <i>M</i><sub>UXCL</sub>${ARR}<i>D</i><sub>RELXILL\u2009+\u2009UXCL</sub> in the HCT regime`, 911.5, 350.5);
const ylabHTML = "counts cm<sup>\u22122</sup>s<sup>\u22121</sup>kev<sup>\u22121</sup>)";
addText("ylab", ylabHTML, 21, 176);
addText("ylab", ylabHTML, 21, 510);
addText("xlab", "E(keV)", 342, 694.5);
addText("xlab", "E(keV)", 911.5, 694.5);

// Legends
const legends = [
  {right: 579, top: 42.7, items: [["IN: UXCLUMPY", K, W], ["FIT: MYTORUS", R, W], ["FIT: BORUS", G, W], ["FIT: RXTORUS", C, W], ["FIT: CTORUS", B, W]]},
  {right: 9.3, top: 42.7, items: [["IN: UXCLUMPY", K, W], ["FIT: MYTORUS", R, W], ["FIT: BORUS", G, W], ["FIT: CTORUS", B, W]]},
  {right: 579, top: 377, items: [["IN:CTORUS,<i>N</i><sub>H</sub> = 500", K, 1.5], ["FIT: UXCLUMPY", G, 2.3, "8.3,3.6"], ["FIT: UXCLUMPY-SCAT", R, 1.3, "5.6,2.4"], ["FIT: UXCLUMPY-TRAN", GR, 3, "11,4.8"]]},
  {right: 9.3, top: 377, items: [["INPUT : RELXILL + UXCLUMPY", B, 2.5], ["FIT: UXCLUMPY", G, 2.5, "8.3,3.6"]]}
];
for (const lg of legends) {
  const box = document.createElement("div");
  box.className = "legend";
  box.style.right = lg.right + "px"; box.style.top = lg.top + "px";
  for (const [label, color, sw, dash] of lg.items) {
    const row = document.createElement("div");
    row.className = "row";
    row.innerHTML = `<svg viewBox="0 0 33 10"><line x1="0" y1="5" x2="33" y2="5" stroke="${color}" stroke-width="${sw}" ${dash ? `stroke-dasharray="${dash}"` : ""}/></svg><span>${label}</span>`;
    box.appendChild(row);
  }
  fig.appendChild(box);
}
</script>
</body></html>
